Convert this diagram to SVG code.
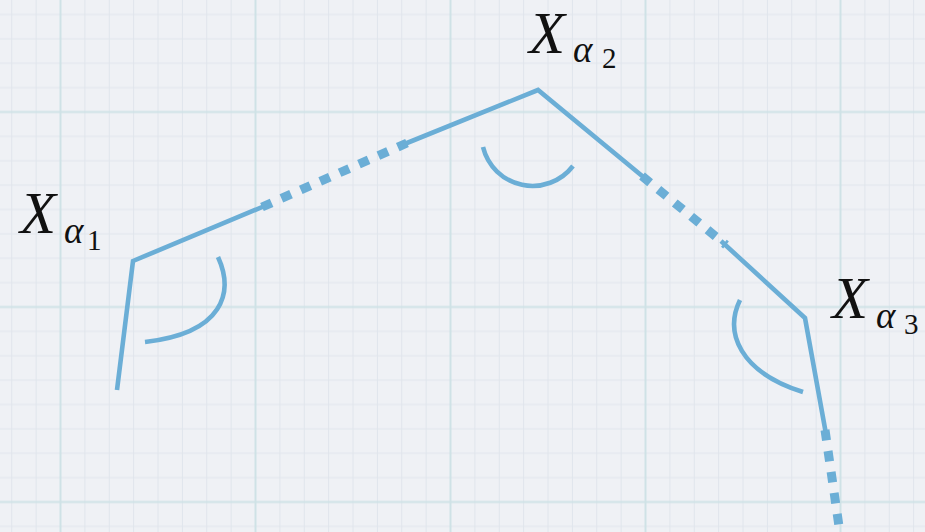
<svg xmlns="http://www.w3.org/2000/svg" width="925" height="532" viewBox="0 0 925 532">
  <style>
    .solid { fill: none; stroke: #6baed6; stroke-width: 4.6; stroke-linecap: butt; stroke-linejoin: miter; }
    .dots { fill: none; stroke: #6baed6; stroke-width: 9; stroke-dasharray: 10.5 10.7; stroke-linecap: butt; }
    .arc { fill: none; stroke: #6baed6; stroke-width: 4.6; stroke-linecap: butt; }
    .X { font-family: "Liberation Serif", "DejaVu Serif", serif; font-style: italic; font-size: 59px; fill: #111; }
    .a { font-family: "Liberation Serif", "DejaVu Serif", serif; font-style: italic; font-size: 37px; fill: #111; }
    .n { font-family: "Liberation Serif", "DejaVu Serif", serif; font-size: 29px; fill: #111; }
  </style>
  <defs>
    <pattern id="grid" patternUnits="userSpaceOnUse" x="-37" y="14.5" width="195" height="195">
      <g stroke="#e0e5ec" stroke-width="1">
        <line x1="0" y1="0" x2="0" y2="195"/>
        <line x1="195" y1="0" x2="195" y2="195"/>
        <line x1="24.375" y1="0" x2="24.375" y2="195"/>
        <line x1="48.75" y1="0" x2="48.75" y2="195"/>
        <line x1="73.125" y1="0" x2="73.125" y2="195"/>
        <line x1="121.875" y1="0" x2="121.875" y2="195"/>
        <line x1="146.25" y1="0" x2="146.25" y2="195"/>
        <line x1="170.625" y1="0" x2="170.625" y2="195"/>
        <line y1="0" x1="0" y2="0" x2="195"/>
        <line y1="195" x1="0" y2="195" x2="195"/>
        <line y1="24.375" x1="0" y2="24.375" x2="195"/>
        <line y1="48.75" x1="0" y2="48.75" x2="195"/>
        <line y1="73.125" x1="0" y2="73.125" x2="195"/>
        <line y1="121.875" x1="0" y2="121.875" x2="195"/>
        <line y1="146.25" x1="0" y2="146.25" x2="195"/>
        <line y1="170.625" x1="0" y2="170.625" x2="195"/>
      </g>
      <g stroke="#cfe2e6" stroke-width="2">
        <line x1="97.5" y1="0" x2="97.5" y2="195"/>
        <line y1="97.5" x1="0" y2="97.5" x2="195"/>
      </g>
    </pattern>
  </defs>

  <rect x="0" y="0" width="925" height="532" fill="#eff1f5"/>
  <rect x="0" y="0" width="925" height="532" fill="url(#grid)"/>

  <g id="connectors">
    <polyline class="solid" points="117,390 133,261 267,205"/>
    <path class="dots" d="M262,207 L407,143"/>
    <polyline class="solid" points="402,145 538,90 647,180"/>
    <path class="dots" d="M642,176 L726,245"/>
    <polyline class="solid" points="721,241 805,318 826,434"/>
    <path class="dots" d="M825,430 L841,540"/>
  </g>

  <g id="angle1">
    <path class="arc" d="M218,257 C234,292 224,333 145,342"/>
  </g>
  <g id="angle2">
    <path class="arc" d="M483,147 A51,51 0 0 0 573,166"/>
  </g>
  <g id="angle3">
    <path class="arc" d="M740,300 C724,333 740,372 803,392"/>
  </g>

  <g id="node-x1">
    <text class="X" x="20" y="233">X</text>
    <text class="a" x="64" y="243">α</text>
    <text class="n" x="87" y="250">1</text>
  </g>
  <g id="node-x2">
    <text class="X" x="529" y="53">X</text>
    <text class="a" x="573" y="62">α</text>
    <text class="n" x="602" y="68">2</text>
  </g>
  <g id="node-x3">
    <text class="X" x="832" y="318">X</text>
    <text class="a" x="876" y="328">α</text>
    <text class="n" x="904" y="334">3</text>
  </g>
</svg>
